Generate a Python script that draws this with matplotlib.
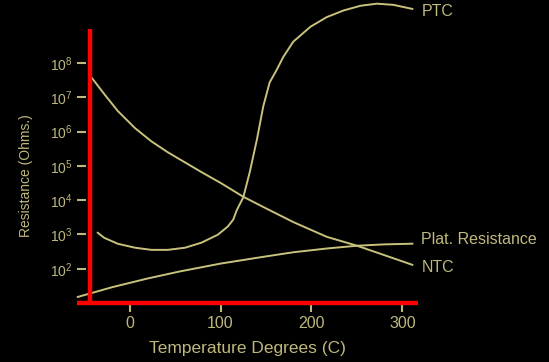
import math

import matplotlib
matplotlib.use("Agg")
import matplotlib.pyplot as plt
from matplotlib.ticker import FixedLocator, FuncFormatter

# values (temperature in C, resistance in ohms)
ntc_temp = [-44, -28, -13, 6, 24, 42, 61, 79, 100, 125, 151, 180, 217, 250, 280, 311]
ntc_ohms = [4.5e7, 1.26e7, 4.0e6, 1.26e6, 5.2e5, 2.5e5, 1.26e5, 6.6e4, 3.2e4,
            1.26e4, 5.6e3, 2.3e3, 850, 470, 250, 130]

plat_temp = [-57, -19, 20, 55, 100, 143, 180, 217, 250, 280, 311]
plat_ohms = [15, 29, 52, 83, 141, 214, 302, 389, 468, 513, 537]

ptc_temp = [-35, -28, -13, 6, 24, 42, 61, 79, 97, 108, 114, 118, 125, 132,
            140, 147, 154, 162, 169, 180, 199, 217, 235, 254, 272, 290, 311]
ptc_ohms = [1120, 800, 535, 410, 355, 355, 410, 575, 980, 1700, 2700, 5200,
            1.2e4, 6.3e4, 5.8e5, 5.4e6, 2.7e7, 6.5e7, 1.5e8, 4.2e8, 1.15e9,
            2.2e9, 3.4e9, 4.7e9, 5.4e9, 5.0e9, 3.8e9]

x_ticks = [0, 100, 200, 300]
y_ticks = [1e2, 1e3, 1e4, 1e5, 1e6, 1e7, 1e8]

LINE = "#c8c27c"
TEXT = "#bfb87c"
RED = "#ff0000"

plt.rcParams["font.family"] = ["Liberation Sans", "DejaVu Sans"]
plt.rcParams["mathtext.fontset"] = "custom"
plt.rcParams["mathtext.rm"] = "Liberation Sans"

fig = plt.figure(figsize=(5.49, 3.62), dpi=100, facecolor="black")
ax = fig.add_axes([0.140, 0.163, 0.621, 0.837])
ax.set_facecolor("black")
ax.set_yscale("log")
ax.set_xlim(-58, 317)
ax.set_ylim(10, 10 ** 9.84)

for t, r in [(ntc_temp, ntc_ohms), (plat_temp, plat_ohms), (ptc_temp, ptc_ohms)]:
    ax.plot(t, r, color=LINE, lw=1.4, clip_on=False, solid_joinstyle="round")

# curve labels sit just past the right end of each curve
ax.text(321, 10 ** 9.50, "PTC", color=TEXT, fontsize=11.5, va="center", clip_on=False)
ax.text(321, 10 ** 2.85, "Plat. Resistance", color=TEXT, fontsize=11.5, va="center", clip_on=False)
ax.text(321, 10 ** 2.03, "NTC", color=TEXT, fontsize=11.5, va="center", clip_on=False)

for s in ax.spines.values():
    s.set_visible(False)

# red axis lines
ax.plot([-44, -44], [10, 1e9], color=RED, lw=3.2, clip_on=False, solid_capstyle="butt")
ax.plot([-58, 317], [10, 10], color=RED, lw=3.2, clip_on=False, solid_capstyle="butt")

ax.xaxis.set_major_locator(FixedLocator(x_ticks))
ax.yaxis.set_major_locator(FixedLocator(y_ticks))
ax.yaxis.set_minor_locator(FixedLocator([]))
ax.yaxis.set_major_formatter(
    FuncFormatter(lambda v, p: r"$\mathregular{10^{%d}}$" % round(math.log10(v))))
ax.tick_params(axis="y", direction="in", length=6.5, width=1.5, color=TEXT,
               labelcolor=TEXT, labelsize=10, pad=3)
ax.tick_params(axis="x", direction="out", length=6.5, width=1.5, color=TEXT,
               labelcolor=TEXT, labelsize=11.5, pad=3)

ax.set_xlabel("Temperature Degrees (C)", color=TEXT, fontsize=12.5, labelpad=7)
ax.set_ylabel("Resistance (Ohms.)", color=TEXT, fontsize=10)
ax.yaxis.set_label_coords(-0.13, 0.42)

fig.savefig("out.png", dpi=100, facecolor="black")
